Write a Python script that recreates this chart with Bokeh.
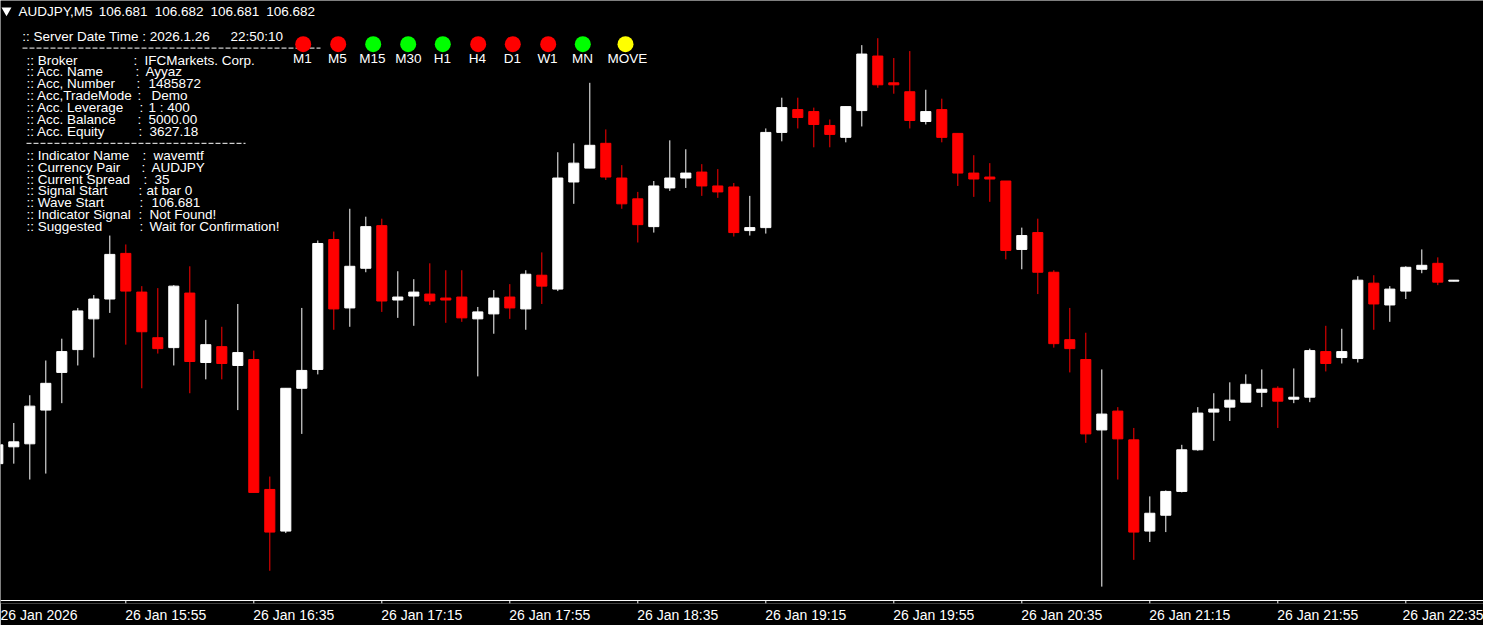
from bokeh.plotting import figure
from bokeh.models import ColumnDataSource, Range1d, LinearAxis, FixedTicker
from bokeh.core.properties import value
from bokeh.embed import file_html
from bokeh.resources import INLINE

# ---------------- data ----------------
opens = [106.497, 106.514, 106.517, 106.551, 106.589, 106.612, 106.643, 106.663, 106.709, 106.670,
         106.624, 106.614, 106.669, 106.599, 106.615, 106.596, 106.602, 106.471, 106.429, 106.573,
         106.592, 106.723, 106.654, 106.694, 106.737, 106.662, 106.666, 106.668, 106.664, 106.665,
         106.643, 106.648, 106.665, 106.653, 106.687, 106.673, 106.781, 106.795, 106.820, 106.785,
         106.764, 106.736, 106.775, 106.785, 106.791, 106.777, 106.776, 106.732, 106.735, 106.831,
         106.854, 106.852, 106.838, 106.826, 106.853, 106.908, 106.881, 106.872, 106.842, 106.854,
         106.830, 106.790, 106.786, 106.782, 106.713, 106.730, 106.690, 106.622, 106.602, 106.531,
         106.550, 106.521, 106.429, 106.445, 106.469, 106.511, 106.549, 106.554, 106.559, 106.569,
         106.573, 106.562, 106.564, 106.610, 106.604, 106.603, 106.679, 106.657, 106.671, 106.693,
         106.699, 106.681]
highs = [106.518, 106.538, 106.566, 106.601, 106.623, 106.654, 106.667, 106.727, 106.718, 106.676,
         106.674, 106.677, 106.696, 106.642, 106.635, 106.658, 106.611, 106.484, 106.573, 106.654,
         106.722, 106.731, 106.754, 106.746, 106.744, 106.691, 106.683, 106.699, 106.692, 106.692,
         106.655, 106.672, 106.678, 106.692, 106.710, 106.811, 106.820, 106.881, 106.834, 106.798,
         106.771, 106.782, 106.823, 106.814, 106.799, 106.794, 106.780, 106.767, 106.835, 106.866,
         106.866, 106.856, 106.844, 106.857, 106.919, 106.926, 106.906, 106.913, 106.874, 106.865,
         106.830, 106.808, 106.800, 106.782, 106.735, 106.744, 106.692, 106.654, 106.629, 106.592,
         106.554, 106.533, 106.464, 106.470, 106.516, 106.554, 106.568, 106.579, 106.587, 106.592,
         106.575, 106.593, 106.613, 106.636, 106.633, 106.686, 106.687, 106.676, 106.696, 106.713,
         106.705, 106.682]
lows = [106.494, 106.497, 106.481, 106.487, 106.558, 106.596, 106.604, 106.649, 106.617, 106.573,
        106.608, 106.596, 106.568, 106.582, 106.582, 106.551, 106.468, 106.389, 106.427, 106.527,
        106.587, 106.632, 106.635, 106.690, 106.650, 106.644, 106.636, 106.657, 106.639, 106.640,
        106.585, 106.628, 106.643, 106.632, 106.658, 106.671, 106.759, 106.795, 106.783, 106.754,
        106.720, 106.730, 106.772, 106.775, 106.767, 106.765, 106.726, 106.727, 106.729, 106.822,
        106.835, 106.816, 106.816, 106.821, 106.837, 106.876, 106.870, 106.835, 106.839, 106.821,
        106.777, 106.766, 106.761, 106.703, 106.693, 106.668, 106.614, 106.589, 106.518, 106.373,
        106.481, 106.400, 106.418, 106.428, 106.468, 106.510, 106.520, 106.540, 106.559, 106.554,
        106.533, 106.558, 106.559, 106.590, 106.598, 106.599, 106.632, 106.640, 106.663, 106.689,
        106.677, 106.681]
closes = [106.516, 106.519, 106.555, 106.578, 106.610, 106.651, 106.663, 106.708, 106.671, 106.630,
          106.613, 106.676, 106.600, 106.617, 106.598, 106.609, 106.468, 106.428, 106.573, 106.591,
          106.719, 106.653, 106.696, 106.736, 106.661, 106.665, 106.670, 106.661, 106.662, 106.644,
          106.650, 106.664, 106.654, 106.688, 106.676, 106.785, 106.800, 106.818, 106.786, 106.759,
          106.738, 106.777, 106.785, 106.790, 106.777, 106.771, 106.730, 106.735, 106.831, 106.856,
          106.846, 106.839, 106.829, 106.857, 106.910, 106.879, 106.879, 106.843, 106.852, 106.826,
          106.790, 106.784, 106.784, 106.712, 106.727, 106.690, 106.618, 106.613, 106.527, 106.547,
          106.522, 106.428, 106.447, 106.469, 106.511, 106.548, 106.552, 106.561, 106.577, 106.572,
          106.560, 106.564, 106.611, 106.598, 106.610, 106.682, 106.658, 106.673, 106.695, 106.697,
          106.680, 106.682]

time_tick_index = [0, 8, 16, 24, 32, 40, 48, 56, 64, 72, 80, 88]
time_tick_labels = ["26 Jan 2026", "26 Jan 15:55", "26 Jan 16:35", "26 Jan 17:15",
                    "26 Jan 17:55", "26 Jan 18:35", "26 Jan 19:15", "26 Jan 19:55",
                    "26 Jan 20:35", "26 Jan 21:15", "26 Jan 21:55", "26 Jan 22:35"]
price_ticks = [106.954, 106.873, 106.808, 106.737, 106.674, 106.603, 106.539, 106.468, 106.398]

title_parts = ["AUDJPY,M5", "106.681", "106.682", "106.681", "106.682"]
server_parts = [":: Server Date Time : 2026.1.26", "22:50:10"]
acc_labels = [":: Broker", ":: Acc. Name", ":: Acc, Number", ":: Acc,TradeMode",
              ":: Acc. Leverage", ":: Acc. Balance", ":: Acc. Equity"]
acc_values = ["IFCMarkets. Corp.", "Ayyaz", "1485872", "Demo", "1 : 400", "5000.00", "3627.18"]
ind_labels = [":: Indicator Name", ":: Currency Pair", ":: Current Spread", ":: Signal Start",
              ":: Wave Start", ":: Indicator Signal", ":: Suggested"]
ind_values = ["wavemtf", "AUDJPY", "35", "at bar 0", "106.681", "Not Found!", "Wait for Confirmation!"]
tf_names = ["M1", "M5", "M15", "M30", "H1", "H4", "D1", "W1", "MN", "MOVE"]
tf_colors = ["#ff0000", "#ff0000", "#00ff00", "#00ff00", "#00ff00",
             "#ff0000", "#ff0000", "#ff0000", "#00ff00", "#ffff00"]

# ---------------- layout helpers (reference pixel -> data space) ----------------
BAR_PX = 16.0
X_OFF = 2.7
P_TOP = 106.964
P_PX = 0.001


def fx(px):
    return (px + X_OFF) / BAR_PX


def fy(py):
    return P_TOP - py * P_PX


W = 1483
H = 625
FONT = value("Liberation Sans")
TXT = "13.5px"

p = figure(width=W, height=H, output_backend="svg", toolbar_location=None,
           x_range=Range1d(fx(0), fx(W)), y_range=Range1d(fy(608), fy(0)),
           x_axis_location=None, y_axis_location=None,
           background_fill_color="black", border_fill_color="black",
           outline_line_color=None, min_border_left=0, min_border_right=0,
           min_border_top=0, min_border_bottom=0)
p.xgrid.grid_line_color = None
p.ygrid.grid_line_color = None

# time axis labels (left-aligned to their tick, as in the terminal)
LABEL_SHIFT = 2.5
label_pos = [t + LABEL_SHIFT for t in time_tick_index]
axB = LinearAxis(ticker=FixedTicker(ticks=label_pos),
                 axis_line_color=None, major_tick_line_color=None,
                 major_tick_in=0, major_tick_out=0, minor_tick_line_color=None,
                 major_label_overrides={pos: lab for pos, lab in zip(label_pos, time_tick_labels)},
                 major_label_text_color="white", major_label_text_font="Liberation Sans",
                 major_label_text_font_size="14px", major_label_standoff=3)
p.add_layout(axB, "below")

# chart window border + tick marks
BORDER_B = 605
BORDER_R = 1497
p.segment(x0=[fx(0), fx(BORDER_R)], y0=[fy(BORDER_B), fy(0)],
          x1=[fx(BORDER_R), fx(BORDER_R)], y1=[fy(BORDER_B), fy(BORDER_B)],
          line_color="white", line_width=1)
xt = [float(t) for t in time_tick_index if t > fx(0)]
p.segment(x0=xt, y0=[fy(BORDER_B)] * len(xt), x1=xt, y1=[fy(BORDER_B + 3)] * len(xt),
          line_color="white", line_width=1)
p.segment(x0=[fx(BORDER_R)] * len(price_ticks), y0=price_ticks,
          x1=[fx(BORDER_R + 3)] * len(price_ticks), y1=price_ticks,
          line_color="white", line_width=1)

# candles
idx = list(range(len(opens)))
colors = ["#ffffff" if c >= o else "#ff0000" for o, c in zip(opens, closes)]
src = ColumnDataSource(dict(
    x=idx, o=opens, h=highs, l=lows, c=closes,
    top=[max(o, c) for o, c in zip(opens, closes)],
    bottom=[min(o, c) for o, c in zip(opens, closes)],
    color=colors))
p.segment(x0="x", y0="l", x1="x", y1="h", line_color="color", line_width=1, source=src)
p.vbar(x="x", width=0.63, top="top", bottom="bottom", fill_color="color",
       line_color="color", line_width=1, source=src)

# dashed separators
p.segment(x0=[fx(22), fx(26)], y0=[fy(48), fy(144)], x1=[fx(320), fx(245)], y1=[fy(48), fy(144)],
          line_color="white", line_width=1, line_dash="5 2")

# timeframe circles
circ_x = [302.7, 337.7, 372.7, 407.7, 442.3, 477.7, 512.3, 547.7, 582.3, 625.0]
p.scatter(x=[fx(c) for c in circ_x], y=[fy(44)] * len(circ_x), size=16,
          fill_color=tf_colors, line_color=None)
lab_x = [302, 337, 372, 408, 442, 477, 512, 547, 582, 627]
p.text(x=[fx(c) for c in lab_x], y=[fy(58)] * len(lab_x), text=tf_names,
       text_font=FONT, text_font_size=TXT, text_color="white",
       text_align="center", text_baseline="middle")

# title triangle + text
p.scatter(x=[fx(6)], y=[fy(10)], marker="inverted_triangle", size=10,
          fill_color="white", line_color=None)
title_x = [18, 98.3, 154.3, 210, 265.7]
p.text(x=[fx(v) for v in title_x], y=[fy(11)] * len(title_x), text=title_parts,
       text_font=FONT, text_font_size=TXT, text_color="white",
       text_align="left", text_baseline="middle")
p.text(x=[fx(21.7), fx(230)], y=[fy(36)] * 2, text=server_parts,
       text_font=FONT, text_font_size=TXT, text_color="white",
       text_align="left", text_baseline="middle")

# info block
acc_y = [60, 72, 84, 96, 108, 120, 132]
acc_colon = [133, 135, 136, 137, 139, 137, 138]
acc_val_x = [144, 145, 148, 151, 148, 148, 149]
ind_y = [156, 168, 180, 192, 204, 216, 228]
ind_colon = [142, 141, 143, 138, 139, 138, 139]
ind_val_x = [153, 151, 154, 146, 151, 149, 149]

all_y = acc_y + ind_y
info_x = [fx(26)] * len(all_y) + [fx(v) for v in acc_colon + ind_colon] + [fx(v) for v in acc_val_x + ind_val_x]
info_y = [fy(v) for v in all_y] * 3
info_t = acc_labels + ind_labels + [":"] * len(all_y) + acc_values + ind_values
p.text(x=info_x, y=info_y, text=info_t, text_font=FONT, text_font_size=TXT,
       text_color="white", text_align="left", text_baseline="middle")

open("out.html", "w").write(file_html(p, INLINE))
